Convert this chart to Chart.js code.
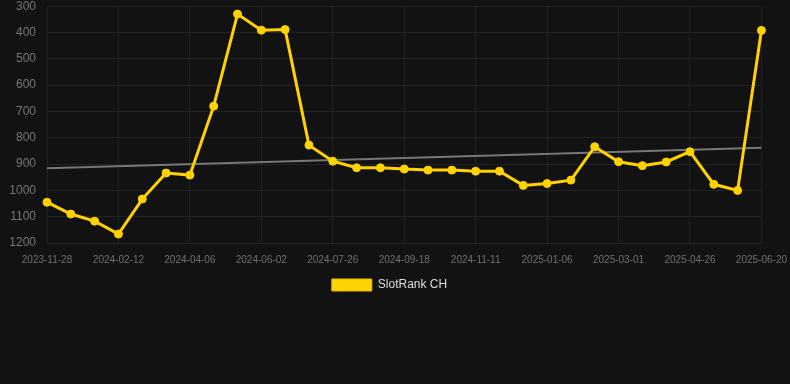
<!DOCTYPE html>
<html>
<head>
<meta charset="utf-8">
<script src="https://cdn.jsdelivr.net/npm/chart.js@4"></script>
<style>
  html, body { margin: 0; padding: 0; background: #121212; }
  #frame { width: 790px; height: 384px; overflow: hidden; position: relative; }
  #wrap { position: absolute; left: -19px; top: -12px; width: 817px; height: 313px; }
</style>
</head>
<body>
<div id="frame"><div id="wrap"><canvas id="rankChart"></canvas></div></div>
<script>
// dates of each rank snapshot
const dates = [
  "2023-11-28", "2023-12-23", "2024-01-17", "2024-02-12", "2024-03-01", "2024-03-19",
  "2024-04-06", "2024-04-25", "2024-05-14", "2024-06-02", "2024-06-20", "2024-07-08",
  "2024-07-26", "2024-08-13", "2024-08-31", "2024-09-18", "2024-10-06", "2024-10-24",
  "2024-11-11", "2024-11-30", "2024-12-18", "2025-01-06", "2025-01-24", "2025-02-11",
  "2025-03-01", "2025-03-20", "2025-04-07", "2025-04-26", "2025-05-14", "2025-06-01",
  "2025-06-20"
];

// SlotRank CH values
const ranks = [
  1045, 1090, 1117, 1166, 1033, 934, 942, 680, 330, 391, 389, 828,
  889, 914, 914, 919, 923, 923, 927, 927, 981, 974, 961, 834,
  891, 906, 892, 853, 977, 1000, 392
];

// trend line end points
const trendStart = 916;
const trendEnd = 838;
const trend = dates.map((d, i) => i === 0 ? trendStart : (i === dates.length - 1 ? trendEnd : null));

const yTicks = [300, 400, 500, 600, 700, 800, 900, 1000, 1100, 1200];

Chart.defaults.font.family = "'Liberation Sans', Arial, sans-serif";

const rankChart = new Chart(document.getElementById("rankChart"), {
  type: "line",
  data: {
    labels: dates,
    datasets: [{
      label: "SlotRank CH",
      data: ranks,
      borderColor: "#FFD200",
      backgroundColor: "#FFD200",
      borderWidth: 3,
      pointRadius: 4,
      pointBorderWidth: 1,
      pointHoverRadius: 5,
      tension: 0
    }, {
      label: "trend",
      data: trend,
      spanGaps: true,
      borderColor: "#777777",
      borderWidth: 2,
      pointRadius: 0,
      tension: 0
    }]
  },
  options: {
    responsive: true,
    maintainAspectRatio: false,
    animation: false,
    plugins: {
      legend: {
        position: "bottom",
        labels: {
          color: "#dddddd",
          font: { size: 12 },
          boxWidth: 40,
          boxHeight: 12,
          padding: 2,
          generateLabels: chart => Chart.defaults.plugins.legend.labels.generateLabels(chart)
            .filter(item => item.datasetIndex === 0)
            .map(item => Object.assign(item, { lineWidth: 1, strokeStyle: "#e6bd00" }))
        }
      },
      tooltip: { enabled: false }
    },
    scales: {
      x: {
        grid: {
          color: ctx => ctx.index % 3 === 0 ? "#222222" : "rgba(0,0,0,0)",
          drawTicks: false
        },
        border: { color: "#222222" },
        ticks: {
          color: "#707070",
          font: { size: 10 },
          autoSkip: false,
          maxRotation: 0,
          padding: 11,
          callback: function (value, index) {
            return index % 3 === 0 ? dates[index] : "";
          }
        }
      },
      y: {
        reverse: true,
        min: 300,
        max: 1200,
        afterBuildTicks: axis => { axis.ticks = yTicks.map(v => ({ value: v })); },
        afterFit: axis => { axis.width = 66; },
        grid: { color: "#222222", drawTicks: false },
        border: { color: "#222222" },
        ticks: {
          color: "#777777",
          font: { size: 12 },
          padding: 11,
          callback: value => String(value)
        }
      }
    }
  }
});
</script>
</body>
</html>
